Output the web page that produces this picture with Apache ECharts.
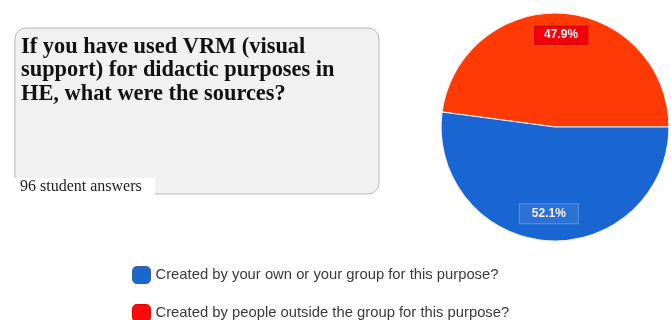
<!DOCTYPE html>
<html>
<head>
<meta charset="utf-8">
<script src="https://cdn.jsdelivr.net/npm/echarts@6/dist/echarts.min.js"></script>
<style>
  html, body { margin: 0; padding: 0; background: #ffffff; }
  #chart { width: 671px; height: 320px; }
</style>
</head>
<body>
<div id="chart"></div>
<script>
// Survey question and answer breakdown
const questionLines = ['If you have used VRM (visual', 'support) for didactic purposes in', 'HE, what were the sources?'];
const answerCount = '96 student answers';
const categories = [
  'Created by people outside the group for this purpose?',
  'Created by your own or your group for this purpose?'
];
const shares = [47.9, 52.1];
const sliceColors = ['#ff3a05', '#1966d2'];
const legendOrder = [1, 0];
const legendColors = ['#ff0a0a', '#1868d0'];
const legendBorders = ['#e00000', '#3d5f8f'];
const labelBoxColors = ['#f2000c', '#2c72d4'];
const labelBorderColors = ['#c8000a', '#5b93de'];
const labelPads = [[3, 9, 2, 9], [4, 12, 3, 12]];
const labelShift = [[0, 1], [0, -6]];

const chart = echarts.init(document.getElementById('chart'), null, { renderer: 'canvas' });

const pieData = categories.map((name, i) => ({
  name,
  value: shares[i],
  itemStyle: { color: sliceColors[i] },
  label: {
    backgroundColor: labelBoxColors[i],
    borderColor: labelBorderColors[i],
    padding: labelPads[i],
    offset: labelShift[i]
  }
}));

const center = [555, 127];
const outerR = 114;

// one legend block per answer, stacked vertically
const legends = legendOrder.map((i, k) => ({
  orient: 'vertical',
  left: 132,
  top: 266 + k * 38,
  padding: 0,
  itemWidth: 18,
  itemHeight: 17,
  itemGap: 7,
  icon: 'roundRect',
  selectedMode: false,
  textStyle: { color: '#3a3a3a', fontSize: 14.8, fontFamily: 'Liberation Sans, Arial, sans-serif' },
  data: [{
    name: categories[i],
    itemStyle: { color: legendColors[i], borderColor: legendBorders[i], borderWidth: 1 }
  }]
}));

chart.setOption({
  animation: false,
  legend: legends,
  graphic: [
    {
      type: 'rect',
      shape: { x: 15, y: 28, width: 364, height: 166, r: 11 },
      style: { fill: '#f1f1f1', stroke: '#b9b9b9', lineWidth: 1 },
      z: 1
    },
    {
      type: 'text',
      left: 21,
      top: 35,
      style: {
        text: questionLines.join('\n'),
        font: 'bold 22.4px "Liberation Serif", "Times New Roman", serif',
        lineHeight: 23.5,
        fill: '#111111'
      },
      z: 3
    },
    {
      type: 'rect',
      shape: { x: 12, y: 178, width: 143, height: 20 },
      style: { fill: '#ffffff' },
      z: 2
    },
    {
      type: 'text',
      left: 20,
      top: 179,
      style: {
        text: answerCount,
        font: '16px "Liberation Serif", "Times New Roman", serif',
        fill: '#222222'
      },
      z: 3
    }
  ],
  series: [
    {
      type: 'pie',
      center: center,
      radius: [0, outerR],
      clockwise: false,
      startAngle: 0,
      silent: true,
      itemStyle: { borderColor: '#f4f4f4', borderWidth: 1.2 },
      label: { show: false },
      labelLine: { show: false },
      data: pieData
    },
    {
      // transparent ring that places the percentage labels near the rim
      type: 'pie',
      center: center,
      radius: [outerR * 0.58, outerR],
      clockwise: false,
      startAngle: 0,
      silent: true,
      itemStyle: { color: 'rgba(0,0,0,0)' },
      label: {
        show: true,
        position: 'inside',
        formatter: p => p.value.toFixed(1) + '%',
        color: '#fdeef0',
        fontSize: 12,
        fontWeight: 'bold',
        fontFamily: 'Liberation Sans, Arial, sans-serif',
        borderWidth: 1
      },
      labelLine: { show: false },
      data: pieData.map(d => ({ name: d.name, value: d.value, label: d.label }))
    }
  ]
});
</script>
</body>
</html>
